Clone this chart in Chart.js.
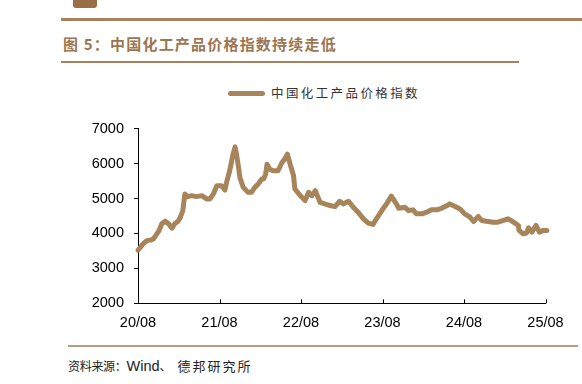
<!DOCTYPE html>
<html>
<head>
<meta charset="utf-8">
<script src="https://cdn.jsdelivr.net/npm/chart.js@4/dist/chart.umd.min.js"></script>
<style>
  html, body { margin: 0; padding: 0; background: #fff; }
  body { width: 582px; height: 384px; position: relative; overflow: hidden; font-family: "Noto Sans CJK SC", sans-serif; }
  .abs { position: absolute; }
  #logo { left: 73px; top: 0; width: 24px; height: 8px; background: #9b6f45; border-radius: 0 0 3px 3px; }
  #topline { left: 61px; top: 18px; width: 521px; height: 3px; background: #a8825e; }
  #title { left: 63px; top: 33px; font-size: 15px; font-weight: bold; color: #9c7650; letter-spacing: 1.2px; white-space: nowrap; line-height: 22px; }
  #titleline { left: 61px; top: 61px; width: 458px; height: 2px; background: #a8825e; }
  #legline { left: 228px; top: 91px; width: 37px; height: 5px; background: #a8845b; border-radius: 3px; }
  #legtext { left: 271px; top: 84px; font-size: 12.5px; color: #333; letter-spacing: 2.4px; line-height: 18px; white-space: nowrap; }
  #srcline { left: 68px; top: 345px; width: 510px; height: 2px; background: #bb9c80; }
  #source { left: 68px; top: 357px; font-size: 12px; color: #222; line-height: 18px; white-space: nowrap; }
  #source .w { font-family: "Liberation Sans", Arial, sans-serif; font-size: 14.5px; }
  #wrap { left: 0; top: 110px; width: 582px; height: 232px; }
</style>
</head>
<body>
<div id="logo" class="abs"></div>
<div id="topline" class="abs"></div>
<div id="title" class="abs">图 5：中国化工产品价格指数持续走低</div>
<div id="titleline" class="abs"></div>
<div id="legline" class="abs"></div>
<div id="legtext" class="abs">中国化工产品价格指数</div>
<div id="wrap" class="abs"><canvas id="c" width="582" height="232"></canvas></div>
<div id="srcline" class="abs"></div>
<div id="source" class="abs"><span style="letter-spacing:-0.3px">资料来源：</span><span class="w">Wind</span><span style="letter-spacing:6px">、</span><span style="font-size:13px;letter-spacing:2px">德邦研究所</span></div>
<script>
// x positions: months elapsed since 2020/08
const xMonths = [0, 0.4, 0.8, 1.2, 1.5, 1.9, 2.3, 2.8, 3.1, 3.5, 4.0, 4.5, 5.0, 5.4, 5.9, 6.2, 6.6, 6.9, 7.3, 7.9,
  8.6, 9.4, 10.1, 10.6, 11.1, 11.6, 12.3, 12.8, 13.1, 13.5, 14.0, 14.3, 14.5, 14.8, 15.0, 15.5, 16.2, 16.7, 17.2, 17.7,
  18.2, 18.5, 18.8, 19.0, 19.4, 19.9, 20.6, 21.2, 21.6, 22.0, 22.4, 22.9, 23.1, 23.9, 24.6, 25.1, 25.6, 26.1, 26.8, 27.5,
  28.3, 29.0, 29.7, 30.2, 31.0, 31.7, 32.4, 33.2, 33.9, 34.6, 35.1, 35.9, 36.6, 37.3, 37.9, 38.4, 39.3, 39.8, 40.5, 41.0,
  41.8, 42.5, 43.2, 44.0, 44.7, 45.5, 45.9, 46.7, 47.4, 48.1, 48.9, 49.4, 50.1, 50.6, 51.3, 52.3, 53.0, 53.8, 54.5, 55.3,
  56.0, 56.1, 56.7, 57.2, 57.5, 58.0, 58.6, 59.1, 59.7, 60.2];
const indexValues = [3520, 3620, 3708, 3780, 3802, 3810, 3850, 3993, 4080, 4278, 4352, 4278, 4152, 4278, 4350, 4449, 4656, 5132, 5055, 5083,
  5055, 5083, 4989, 4989, 5132, 5368, 5368, 5245, 5510, 5795, 6270, 6478, 6270, 5900, 5604, 5320, 5177, 5177, 5320, 5416,
  5558, 5560, 5700, 5985, 5842, 5795, 5795, 6032, 6128, 6270, 5985, 5653, 5274, 5083, 4941, 5177, 5083, 5226, 4893, 4847,
  4799, 4770, 4921, 4847, 4921, 4751, 4609, 4420, 4295, 4258, 4420, 4656, 4847, 5070, 4893, 4720, 4751, 4656, 4676, 4562,
  4562, 4609, 4676, 4676, 4722, 4799, 4847, 4770, 4704, 4562, 4466, 4343, 4485, 4372, 4352, 4323, 4323, 4372, 4420, 4323,
  4229, 4087, 3993, 4012, 4164, 4039, 4229, 4039, 4087, 4087];
const xTickMonths = [0, 12, 24, 36, 48, 60];
const xTickLabels = ['20/08', '21/08', '22/08', '23/08', '24/08', '25/08'];
const yTickValues = [2000, 3000, 4000, 5000, 6000, 7000];
const seriesName = '中国化工产品价格指数';

const lineColor = '#a8845b';
const points = xMonths.map((m, i) => ({ x: m, y: indexValues[i] }));

const innerTicks = {
  id: 'innerTicks',
  afterDraw(chart) {
    const { ctx, scales: { x }, chartArea } = chart;
    ctx.save();
    ctx.strokeStyle = '#000';
    ctx.lineWidth = 1;
    xTickMonths.forEach(m => {
      const px = Math.round(x.getPixelForValue(m)) + 0.5;
      ctx.beginPath();
      ctx.moveTo(px, chartArea.bottom);
      ctx.lineTo(px, chartArea.bottom - 4);
      ctx.stroke();
    });
    ctx.restore();
  }
};

new Chart(document.getElementById('c'), {
  type: 'line',
  data: {
    datasets: [{
      label: seriesName,
      data: points,
      borderColor: lineColor,
      backgroundColor: lineColor,
      borderWidth: 5,
      borderCapStyle: 'round',
      borderJoinStyle: 'round',
      pointRadius: 0,
      tension: 0,
      clip: false
    }]
  },
  options: {
    responsive: false,
    animation: false,
    devicePixelRatio: 1,
    layout: { padding: { top: 17.7, right: 36.5, left: 0, bottom: 0 } },
    plugins: { legend: { display: false }, tooltip: { enabled: false } },
    scales: {
      x: {
        type: 'linear',
        min: 0,
        max: 60,
        afterFit(scale) { scale.height = 38.7; },
        afterBuildTicks(scale) { scale.ticks = xTickMonths.map(v => ({ value: v })); },
        grid: { display: false },
        border: { display: true, color: '#000', width: 1 },
        ticks: {
          autoSkip: false,
          maxRotation: 0,
          padding: 3,
          color: '#000',
          font: { family: 'Liberation Sans, Arial, sans-serif', size: 14.5 },
          callback: (v) => xTickLabels[xTickMonths.indexOf(v)]
        }
      },
      y: {
        min: 2000,
        max: 7000,
        afterFit(scale) { scale.width = 138; },
        afterBuildTicks(scale) { scale.ticks = yTickValues.map(v => ({ value: v })); },
        grid: { display: true, drawOnChartArea: false, drawTicks: true, tickLength: 4, color: '#000' },
        border: { display: true, color: '#000', width: 1 },
        ticks: {
          padding: 10,
          color: '#000',
          font: { family: 'Liberation Sans, Arial, sans-serif', size: 14.5 },
          callback: (v) => String(v)
        }
      }
    }
  },
  plugins: [innerTicks]
});
</script>
</body>
</html>
